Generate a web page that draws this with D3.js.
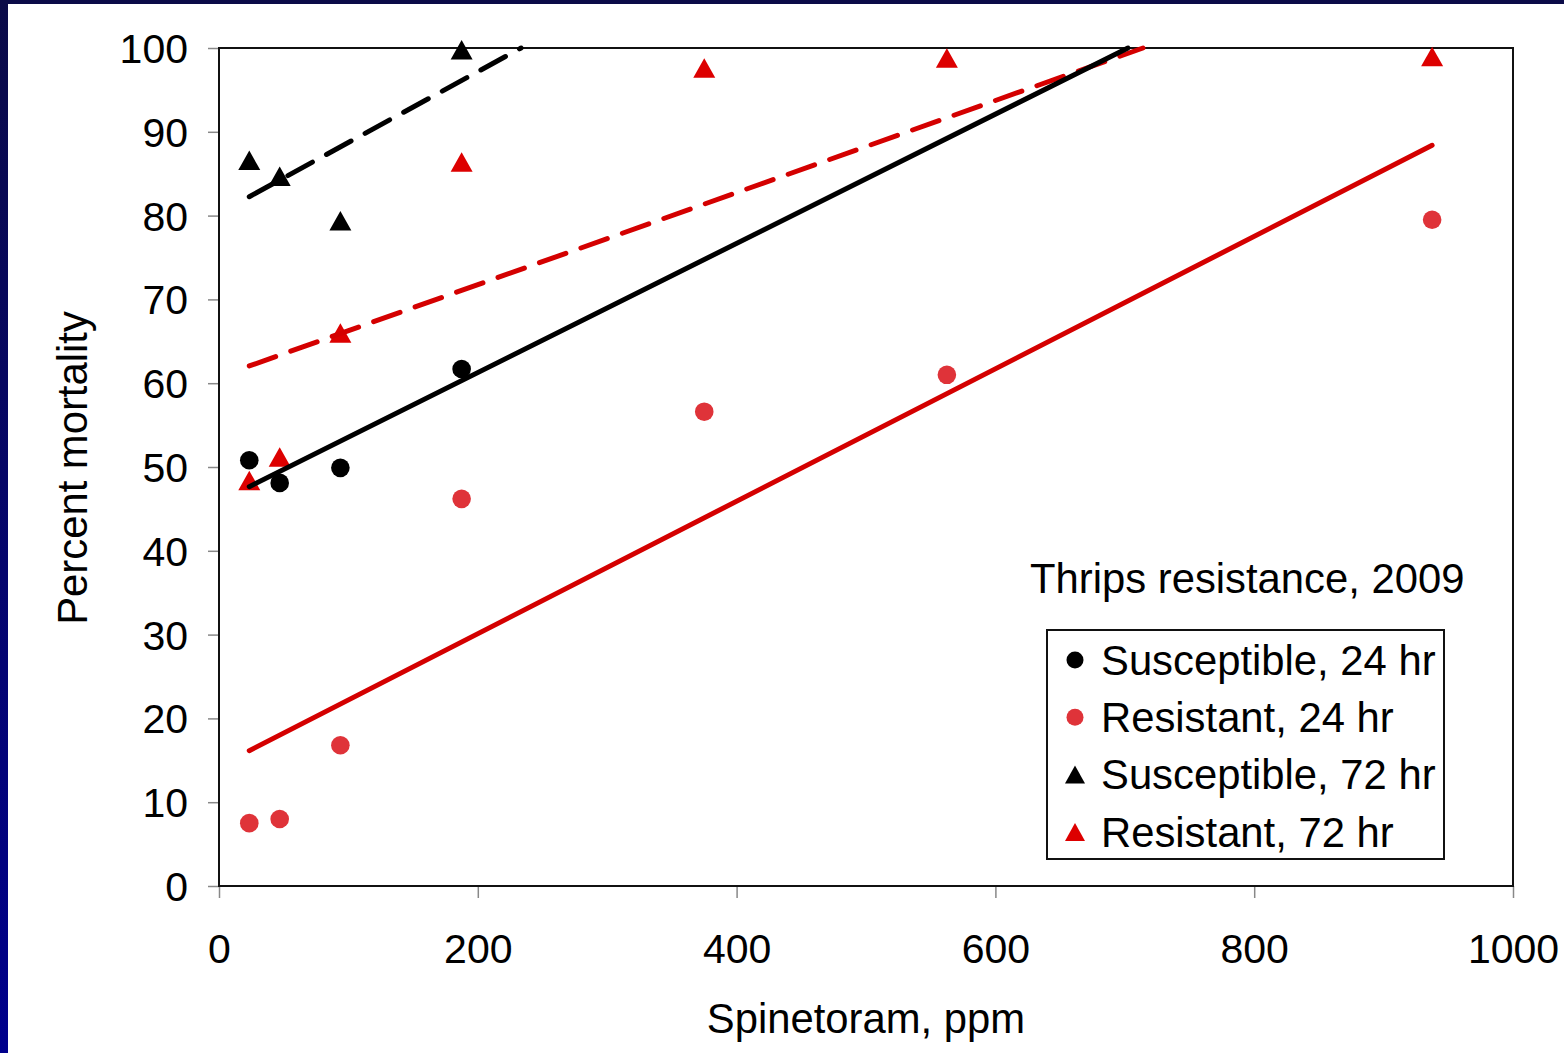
<!DOCTYPE html>
<html>
<head>
<meta charset="utf-8">
<script src="https://cdn.jsdelivr.net/npm/d3@7"></script>
<style>
  html, body { margin: 0; padding: 0; background: #fff; }
  svg { display: block; }
  text { font-family: "Liberation Sans", Arial, sans-serif; fill: #000; }
</style>
</head>
<body>
<svg id="chart" width="1564" height="1053"></svg>
<script>
// ---------------- DATA ----------------
const doses = [23.4, 46.9, 93.8, 187.5, 375, 562.5, 937.5];        // Spinetoram, ppm
const susceptible24 = [50.8, 48.1, 49.9, 61.7];                      // first 4 doses
const resistant24   = [7.5, 8.0, 16.8, 46.2, 56.6, 61.0, 79.5];
const susceptible72 = [86.6, 84.7, 79.4, 99.8];
const resistant72   = [48.4, 51.2, 66.0, 86.4, 97.6, 98.8, 99.0];

// linear trend lines: intercept, slope (percent per ppm), x start, x end
const trendSusc24 = [45.85, 0.07709, 23.4, 937.5];
const trendRes24  = [14.30, 0.07903, 23.4, 937.5];
const trendSusc72 = [80.28, 0.08448, 23.4, 937.5];
const trendRes72  = [60.77, 0.05494, 23.4, 937.5];

const xTicks = [0, 200, 400, 600, 800, 1000];
const yTicks = [0, 10, 20, 30, 40, 50, 60, 70, 80, 90, 100];

const legendLabels = ["Susceptible, 24 hr", "Resistant, 24 hr", "Susceptible, 72 hr", "Resistant, 72 hr"];
const chartNote = "Thrips resistance, 2009";
const xTitle = "Spinetoram, ppm";
const yTitle = "Percent mortality";

// ---------------- LAYOUT ----------------
const W = 1564, H = 1053;
const plot = { left: 219, right: 1513, top: 48, bottom: 886 };
const FONT = 41;
const FONT_BIG = 41.8;
const BLACK = "#000000", RED_LINE = "#d40000", RED_TRI = "#dd0000", RED_DOT = "#df3339";

const svg = d3.select("#chart");

// background border
const defs = svg.append("defs");
const grad = defs.append("linearGradient").attr("id", "bg").attr("x1", 0).attr("y1", 0).attr("x2", 0).attr("y2", 1);
grad.append("stop").attr("offset", "0%").attr("stop-color", "#0b0b48");
grad.append("stop").attr("offset", "100%").attr("stop-color", "#00008c");
svg.append("rect").attr("width", W).attr("height", H).attr("fill", "url(#bg)");
svg.append("rect").attr("x", 8).attr("y", 4).attr("width", W - 8).attr("height", H - 4).attr("fill", "#fff");

const x = d3.scaleLinear().domain([0, 1000]).range([plot.left, plot.right]);
const y = d3.scaleLinear().domain([0, 100]).range([plot.bottom, plot.top]);

// axes
const yAxis = d3.axisLeft(y).tickValues(yTicks).tickSize(11).tickPadding(20).tickFormat(d3.format("d"));
const gy = svg.append("g").attr("transform", `translate(${plot.left},0)`).call(yAxis);
gy.select(".domain").remove();
gy.selectAll(".tick line").attr("stroke", "#888").attr("stroke-width", 1.5);
gy.selectAll(".tick text").attr("font-size", FONT).attr("font-family", "Liberation Sans, Arial, sans-serif").attr("dy", "0.355em").attr("fill", "#000");

const xAxis = d3.axisBottom(x).tickValues(xTicks).tickSize(12).tickPadding(36).tickFormat(d3.format("d"));
const gx = svg.append("g").attr("transform", `translate(0,${plot.bottom})`).call(xAxis);
gx.select(".domain").remove();
gx.selectAll(".tick line").attr("stroke", "#888").attr("stroke-width", 1.5);
gx.selectAll(".tick text").attr("font-size", FONT).attr("font-family", "Liberation Sans, Arial, sans-serif").attr("fill", "#000");

// plot frame
svg.append("rect")
  .attr("x", plot.left).attr("y", plot.top)
  .attr("width", plot.right - plot.left).attr("height", plot.bottom - plot.top)
  .attr("fill", "none").attr("stroke", "#111").attr("stroke-width", 2);

// axis titles
svg.append("text").attr("x", (plot.left + plot.right) / 2).attr("y", 1033)
  .attr("text-anchor", "middle").attr("font-size", FONT_BIG).text(xTitle);
svg.append("text").attr("transform", "translate(87,468) rotate(-90)")
  .attr("text-anchor", "middle").attr("font-size", FONT_BIG).text(yTitle);

// marker helpers
function triPath(w, h) {
  const p = d3.path();
  p.moveTo(0, -h / 2); p.lineTo(w / 2, h / 2); p.lineTo(-w / 2, h / 2); p.closePath();
  return p.toString();
}
function drawCircles(vals, color) {
  svg.append("g").selectAll("circle").data(vals).join("circle")
    .attr("cx", (d, i) => x(doses[i])).attr("cy", d => y(d))
    .attr("r", 9.3).attr("fill", color);
}
function drawTriangles(vals, color) {
  svg.append("g").selectAll("path").data(vals).join("path")
    .attr("transform", (d, i) => `translate(${x(doses[i])},${y(d)})`)
    .attr("d", triPath(22, 19.5)).attr("fill", color);
}

drawCircles(resistant24, RED_DOT);
drawCircles(susceptible24, BLACK);
drawTriangles(resistant72, RED_TRI);
drawTriangles(susceptible72, BLACK);

// trend lines (clipped at 100 %)
function drawTrend(t, color, dash) {
  const [b, m, x0, x1] = t;
  const xEnd = Math.min(x1, (100 - b) / m);
  const pts = [[x0, b + m * x0], [xEnd, b + m * xEnd]];
  svg.append("path").datum(pts)
    .attr("d", d3.line().x(d => x(d[0])).y(d => y(d[1])))
    .attr("fill", "none").attr("stroke", color).attr("stroke-width", 5)
    .attr("stroke-linecap", "round")
    .attr("stroke-dasharray", dash || null);
}
drawTrend(trendRes24, RED_LINE, null);
drawTrend(trendRes72, RED_LINE, "28,16");
drawTrend(trendSusc24, BLACK, null);
drawTrend(trendSusc72, BLACK, "28,16");

// note
svg.append("text").attr("x", 1030).attr("y", 593).attr("font-size", FONT_BIG).text(chartNote);

// legend
const lg = svg.append("g");
lg.append("rect").attr("x", 1047).attr("y", 630).attr("width", 397).attr("height", 229)
  .attr("fill", "#fff").attr("stroke", "#111").attr("stroke-width", 2);
const legendKinds = [["circle", BLACK], ["circle", RED_DOT], ["tri", BLACK], ["tri", RED_TRI]];
legendLabels.forEach((lab, i) => {
  const cy = 660 + i * 57.3;
  const [kind, col] = legendKinds[i];
  if (kind === "circle") {
    lg.append("circle").attr("cx", 1075).attr("cy", cy).attr("r", 8.5).attr("fill", col);
  } else {
    lg.append("path").attr("transform", `translate(1075,${cy})`).attr("d", triPath(20, 18)).attr("fill", col);
  }
  lg.append("text").attr("x", 1101).attr("y", cy + 14.7).attr("font-size", FONT_BIG).text(lab);
});
</script>
</body>
</html>
